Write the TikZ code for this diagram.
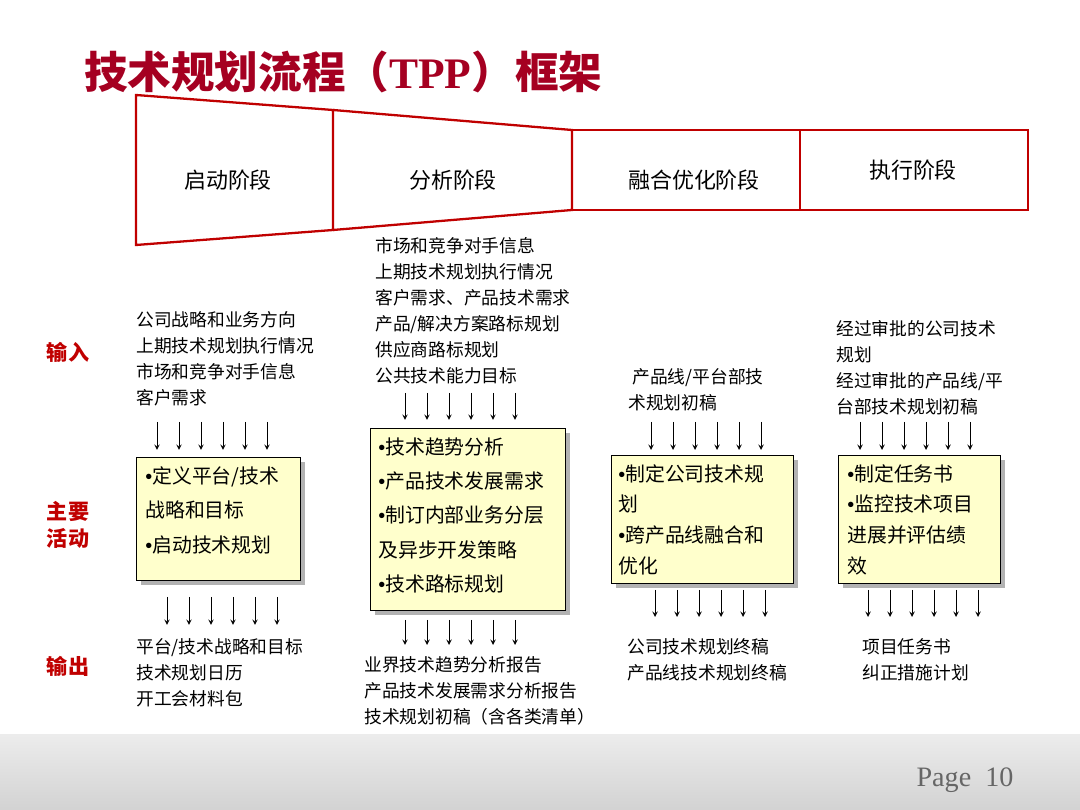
\documentclass[tikz,border=0pt]{standalone}
\usepackage{fontspec}
\setmainfont{Noto Sans CJK SC}
\newfontfamily\pagefont{Liberation Serif}
\newfontfamily\bulletfont{Liberation Sans}
\usetikzlibrary{positioning}
\definecolor{tppred}{HTML}{C00000}
\definecolor{titlered}{HTML}{A50021}
\definecolor{boxfill}{HTML}{FFFFCC}
\newcommand{\bul}{{\bulletfont\char"2022}}
\tikzset{
  stage/.style={draw=tppred, line width=1.3pt},
  stagelabel/.style={font=\fontsize{12.5}{14}\selectfont},
  rowlabel/.style={text=tppred, font=\bfseries\fontsize{12}{15}\selectfont, align=center},
  io/.style={anchor=north west, align=left, inner sep=0pt, font=\fontsize{10.1}{14.8}\selectfont},
  acttext/.style={anchor=north west, align=left, inner sep=0pt, font=\fontsize{11.3}{19.6}\selectfont},
  actbox/.style={draw, fill=boxfill},
  shadow/.style={fill=gray!60},
  downarrow/.style={->, >=stealth, thin}
}
\begin{document}
\begin{tikzpicture}[x=0.02cm, y=-0.02cm]
  \useasboundingbox (0,0) rectangle (1080,810);
  % bottom band
  \shade[top color=gray!15, bottom color=gray!35] (0,735) rectangle (1080,810);
  \node[text=gray!80!black, font=\pagefont\fontsize{16}{16}\selectfont] (page) at (965,780) {Page\ \ 10};
  % title
  \node[anchor=west, text=titlered, font=\bfseries\fontsize{24.8}{28}\selectfont] (title) at (78,72) {技术规划流程（{\pagefont TPP}）框架};
  % stages
  \draw[stage] (136,95) -- (333,110) -- (333,230) -- (136,245) -- cycle;
  \draw[stage] (333,110) -- (572,130) -- (572,210) -- (333,230);
  \draw[stage] (572,130) rectangle (800,210);
  \draw[stage] (800,130) rectangle (1028,210);
  \node[stagelabel] (s1) at (228,180) {启动阶段};
  \node[stagelabel] (s2) at (453,180) {分析阶段};
  \node[stagelabel] (s3) at (694,180) {融合优化阶段};
  \node[stagelabel] (s4) at (913,170) {执行阶段};
  % row labels
  \node[rowlabel] (rin) at (68,352) {输入};
  \node[rowlabel] (ract) at (68,525) {主要\\活动};
  \node[rowlabel] (rout) at (68,666) {输出};
  % inputs
  \node[io] (in1) at (136,311) {公司战略和业务方向\\上期技术规划执行情况\\市场和竞争对手信息\\客户需求};
  \node[io] (in2) at (375,237) {市场和竞争对手信息\\上期技术规划执行情况\\客户需求、产品技术需求\\产品/解决方案路标规划\\供应商路标规划\\公共技术能力目标};
  \node[io] (in3) at (628,368) {\ 产品线/平台部技\\术规划初稿};
  \node[io] (in4) at (836,320) {经过审批的公司技术\\规划\\经过审批的产品线/平\\台部技术规划初稿};
  % activities
  \fill[shadow] (141,462) rectangle (305,585);
  \draw[actbox] (136,457) rectangle (300,580);
  \node[acttext] (t1) at (145,466) {\bul 定义平台/技术\\战略和目标\\\bul 启动技术规划};
  \fill[shadow] (375,433) rectangle (570,615);
  \draw[actbox] (370,428) rectangle (565,610);
  \node[acttext] (t2) at (378,437) {\bul 技术趋势分析\\\bul 产品技术发展需求\\\bul 制订内部业务分层\\及异步开发策略\\\bul 技术路标规划};
  \fill[shadow] (616,460) rectangle (798,588);
  \draw[actbox] (611,455) rectangle (793,583);
  \node[acttext, font=\fontsize{11.3}{17.5}\selectfont] (t3) at (618,464) {\bul 制定公司技术规\\划\\\bul 跨产品线融合和\\优化};
  \fill[shadow] (843,460) rectangle (1005,588);
  \draw[actbox] (838,455) rectangle (1000,583);
  \node[acttext, font=\fontsize{11.3}{17.5}\selectfont] (t4) at (847,464) {\bul 制定任务书\\\bul 监控技术项目\\进展并评估绩\\效};
  % outputs
  \node[io] (o1) at (136,638) {平台/技术战略和目标\\技术规划日历\\开工会材料包};
  \node[io] (o2) at (364,656) {业界技术趋势分析报告\\产品技术发展需求分析报告\\技术规划初稿（含各类清单）};
  \node[io] (o3) at (627,638) {公司技术规划终稿\\产品线技术规划终稿};
  \node[io] (o4) at (862,638) {项目任务书\\纠正措施计划};
  % arrow rows
  \foreach \x/\ya/\yb in {157/422/450, 405/393/420, 651/422/450, 860/422/450,
                          167/597/625, 405/620/645, 655/590/617, 868/590/617}
    \foreach \i in {0,...,5}
      \draw[downarrow] (\x+22*\i,\ya) -- (\x+22*\i,\yb);
\end{tikzpicture}
\end{document}
